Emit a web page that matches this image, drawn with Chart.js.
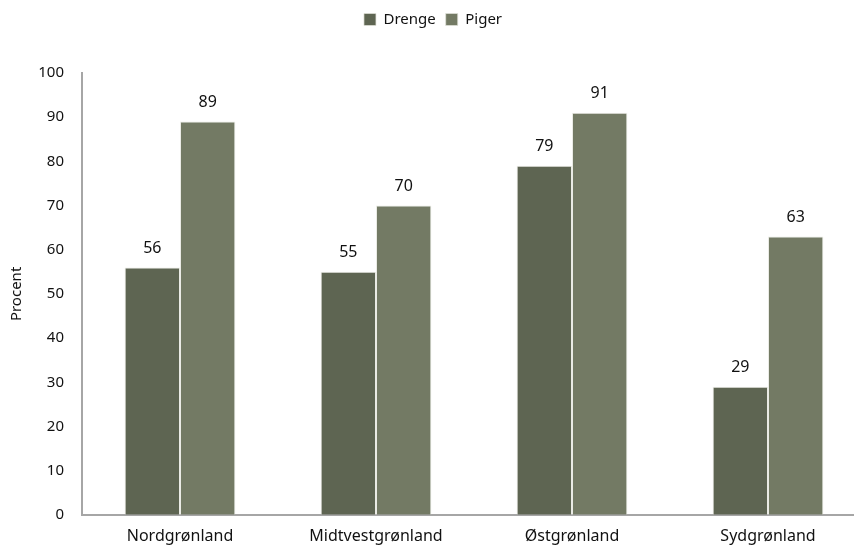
<!DOCTYPE html>
<html>
<head>
<meta charset="utf-8">
<script src="https://cdn.jsdelivr.net/npm/chart.js@4/dist/chart.umd.min.js"></script>
<style>
  html, body { margin: 0; padding: 0; background: #ffffff; overflow: hidden; }
  #wrap { position: relative; width: 866px; height: 545px; }
</style>
</head>
<body>
<div id="wrap"><canvas id="chart" width="866" height="545"></canvas></div>
<script>
const regions = ['Nordgrønland', 'Midtvestgrønland', 'Østgrønland', 'Sydgrønland'];
const drenge = [56, 55, 79, 29];
const piger = [89, 70, 91, 63];
const yTicks = [0, 10, 20, 30, 40, 50, 60, 70, 80, 90, 100];

const FONT = '"Noto Sans", "Open Sans", sans-serif';

// Writes each bar's value above it
const valueLabels = {
  id: 'valueLabels',
  afterDatasetsDraw(chart) {
    const ctx = chart.ctx;
    ctx.save();
    ctx.font = '16px ' + FONT;
    ctx.fillStyle = '#111111';
    ctx.textAlign = 'center';
    ctx.textBaseline = 'bottom';
    chart.data.datasets.forEach((ds, i) => {
      const meta = chart.getDatasetMeta(i);
      meta.data.forEach((bar, j) => {
        ctx.fillText(String(ds.data[j]), bar.x, bar.y - 11);
      });
    });
    ctx.restore();
  }
};

// Extra room between the legend and the plot
const legendGap = {
  id: 'legendGap',
  beforeInit(chart) {
    const fit = chart.legend.fit;
    chart.legend.fit = function () {
      fit.bind(chart.legend)();
      this.height += 36;
    };
  }
};

new Chart(document.getElementById('chart'), {
  type: 'bar',
  data: {
    labels: regions,
    datasets: [
      { label: 'Drenge', data: drenge, backgroundColor: '#5e6552', borderColor: 'rgba(225,226,218,0.7)', borderWidth: 1 },
      { label: 'Piger', data: piger, backgroundColor: '#737a64', borderColor: 'rgba(225,226,218,0.7)', borderWidth: 1 }
    ]
  },
  options: {
    responsive: false,
    animation: false,
    layout: { padding: { top: 2, right: 0, bottom: -13, left: 0 } },
    datasets: { bar: { categoryPercentage: 0.565, barPercentage: 1.0 } },
    plugins: {
      legend: {
        position: 'top',
        labels: {
          boxWidth: 12,
          boxHeight: 12,
          padding: 10,
          color: '#111111',
          font: { family: FONT, size: 15 }
        }
      },
      tooltip: { enabled: false }
    },
    scales: {
      x: {
        grid: { display: false, drawTicks: false },
        border: { display: true, color: '#a6a6a6', width: 2 },
        ticks: { color: '#111111', padding: 12, font: { family: FONT, size: 16 } }
      },
      y: {
        min: 0,
        max: 100,
        afterBuildTicks(scale) { scale.ticks = yTicks.map(v => ({ value: v })); },
        afterFit(scale) { scale.width = 82; },
        grid: { display: false, drawTicks: false },
        border: { display: true, color: '#a6a6a6', width: 2 },
        ticks: { color: '#111111', padding: 18, font: { family: FONT, size: 15 } },
        title: {
          display: true,
          text: 'Procent',
          color: '#111111',
          padding: { top: 8, bottom: 0 },
          font: { family: FONT, size: 15 }
        }
      }
    }
  },
  plugins: [valueLabels, legendGap]
});
</script>
</body>
</html>
